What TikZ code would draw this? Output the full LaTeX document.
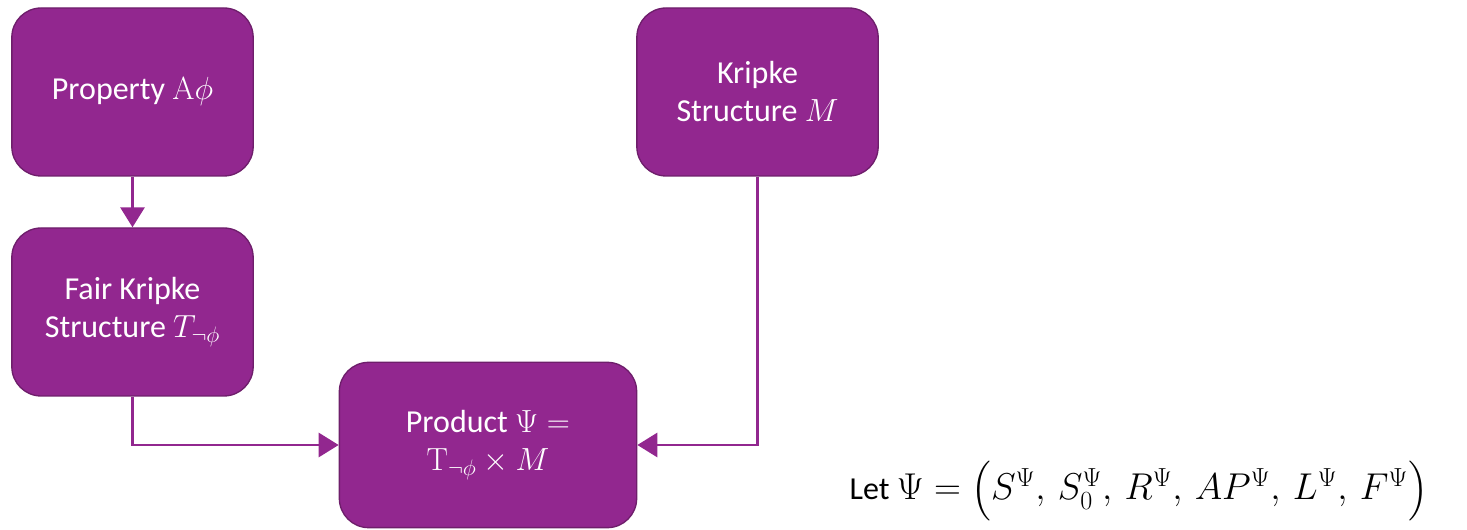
\RequirePackage{fix-cm}
\documentclass[tikz,border=0pt]{standalone}
\usepackage{amsmath}
\usepackage[no-math]{fontspec}
\setmainfont{Carlito}
\usetikzlibrary{arrows.meta,positioning}
\definecolor{plum}{HTML}{92278F}
\definecolor{plumdark}{HTML}{6E1E6B}
\tikzset{
  stage/.style={rectangle,rounded corners=22pt,draw=plumdark,line width=1pt,
    fill=plum,text=white,align=center,
    font=\fontsize{24}{28.5}\selectfont},
  link/.style={draw=plum,line width=2.2pt,
    -{Triangle[length=15pt,width=18pt]}},
}
\newcommand{\tup}[1]{\fontsize{28}{32}\selectfont$#1$}

\begin{document}
\begin{tikzpicture}[x=0.75pt,y=0.75pt]
\useasboundingbox (0,0) rectangle (1467,-530);
% the three inputs and their product
\node[stage,minimum width=181pt,minimum height=126pt] (prop) at (132.5,-92) {Property $\mathrm{A}\phi$};
\node[stage,minimum width=181pt,minimum height=126pt] (fair) at (132.5,-312) {Fair Kripke\\Structure $T_{\neg\phi}$};
\node[stage,minimum width=181pt,minimum height=126pt] (kripke) at (757.5,-92) {Kripke\\Structure $M$};
\node[stage,minimum width=223pt,minimum height=124pt] (prod) at (488,-445) {Product $\Psi =$\\$\mathrm{T}_{\neg\phi}\times M$};
\node[font=\fontsize{24}{28.5}\selectfont,anchor=base west] (let) at (845,-500)
  {Let \tup{\Psi=\bigl(S^\Psi,\,S_0^\Psi,\,R^\Psi,\,AP^\Psi,\,L^\Psi,\,F^\Psi\bigr)}};
\draw[link] (prop) -- (fair);
\draw[link] (fair.south) |- (prod.west);
\draw[link] (kripke.south) |- (prod.east);
\end{tikzpicture}
\end{document}
